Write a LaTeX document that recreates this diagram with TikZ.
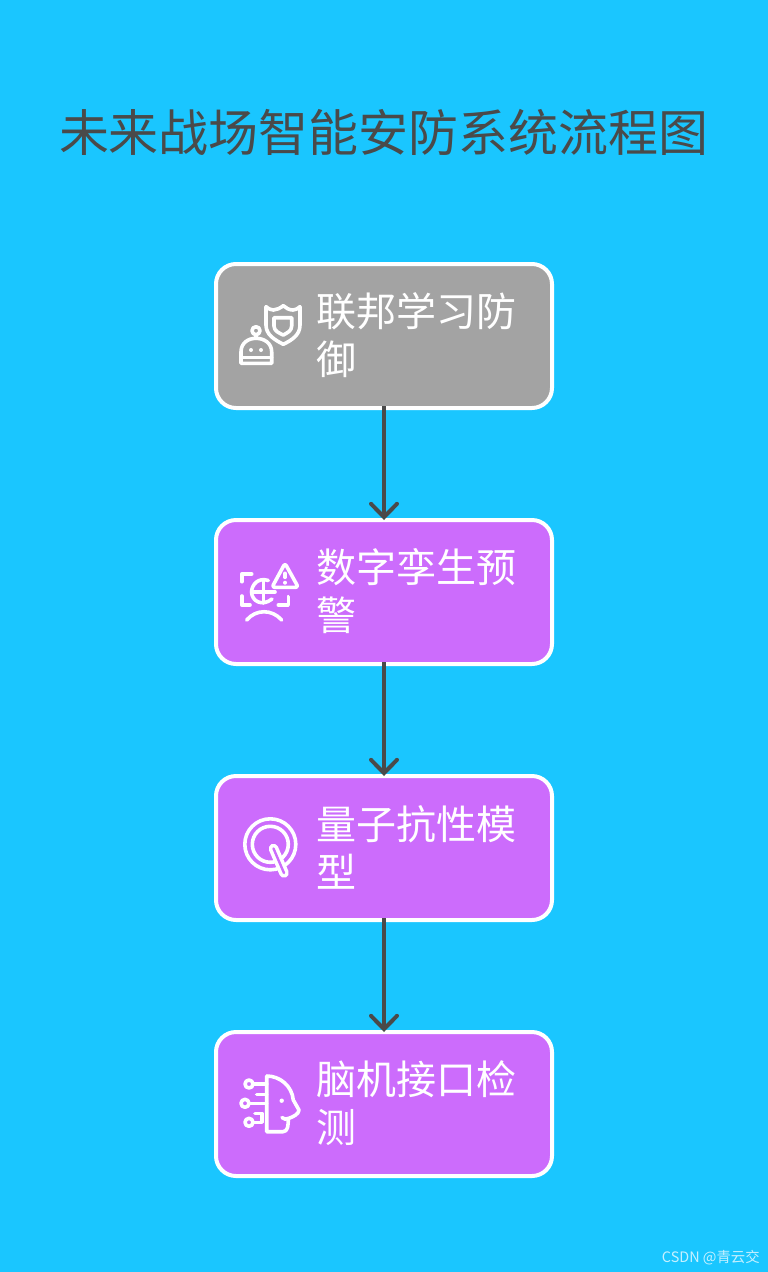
\documentclass[tikz,border=0pt]{standalone}
\usepackage{fontspec}
\setmainfont{Noto Sans CJK SC}
\usetikzlibrary{arrows.meta}
\definecolor{skybg}{HTML}{1AC6FF}
\definecolor{greybox}{HTML}{A3A3A3}
\definecolor{violetbox}{HTML}{CC6CFC}
\definecolor{inkgrey}{HTML}{4A4A4A}
\tikzset{
  flowbox/.style={draw=white,line width=3pt,rounded corners=15pt,minimum width=252pt,minimum height=108pt,inner sep=0pt,outer sep=0pt},
  flowtext/.style={anchor=west,align=left,inner sep=0pt,text=white,font=\fontsize{30}{36}\selectfont},
  flowarrow/.style={draw=inkgrey,line width=3pt,shorten <=-1.5pt,-{Straight Barb[length=10pt,width=19.5pt,line cap=round]}},
  iconline/.style={draw=white,line width=2.7pt,line cap=round,line join=round}
}
\begin{document}
\begin{tikzpicture}[x=0.75pt,y=-0.75pt]
  \useasboundingbox (0,0) rectangle (768,1272);
  \fill[skybg] (0,0) rectangle (768,1272);
  % 标题
  \node[text=inkgrey,inner sep=0pt,font=\fontsize{37.5}{45}\selectfont] (title) at (384,132) {未来战场智能安防系统流程图};
  % 四个方框
  \node[flowbox,fill=greybox] (fed) at (384,336) {};
  \node[flowbox,fill=violetbox] (twin) at (384,592) {};
  \node[flowbox,fill=violetbox] (quantum) at (384,848) {};
  \node[flowbox,fill=violetbox] (brain) at (384,1104) {};
  % 方框文字
  \node[flowtext] (fedtext) at (316,335) {联邦学习防\\御};
  \node[flowtext] (twintext) at (316,591) {数字孪生预\\警};
  \node[flowtext] (quantumtext) at (316,847) {量子抗性模\\型};
  \node[flowtext] (braintext) at (316,1103) {脑机接口检\\测};
  % 箭头
  \draw[flowarrow] (fed) -- (twin);
  \draw[flowarrow] (twin) -- (quantum);
  \draw[flowarrow] (quantum) -- (brain);
  % 机器人和盾牌
  \draw[iconline] (256,330.7) circle (4);
  \draw[iconline] (256,334.7) -- (256,338.3);
  \draw[iconline] (241,363.3) -- (241,352) .. controls (241,343) and (248,338.3) .. (256,338.3)
    .. controls (264,338.3) and (271.7,343) .. (271.7,352) -- (271.7,363.3) -- cycle;
  \draw[iconline] (241,357.3) -- (271.7,357.3);
  \foreach \x in {251,261}
    \fill[white] (\x,350) circle (2);
  \draw[iconline] (266,306.7) -- (266,325) .. controls (266,335) and (275,340) .. (283.3,344.3)
    .. controls (292,340) and (300,335) .. (300,325) -- (300,306.7)
    .. controls (297,309) and (295,310) .. (293,310) .. controls (289,310) and (286,308) .. (283.3,305.7)
    .. controls (280,308) and (277,310) .. (273.3,310) .. controls (271,310) and (269,309) .. (266,306.7) -- cycle;
  \draw[iconline] (274,317.7) -- (291.7,317.7) -- (291.7,326) .. controls (291.7,331) and (287,333) .. (283.3,335)
    .. controls (279,333) and (274,331) .. (274,326) -- cycle;
  % 地球和警告
  \draw[iconline,rounded corners=2pt] (285,563.3) -- (298.3,587.3) -- (272,587.3) -- cycle;
  \draw[iconline] (285,573.3) -- (285,577.3);
  \fill[white] (285,582.7) circle (2);
  \draw[iconline] (241.7,581.7) -- (241.7,574) -- (251.7,574);
  \draw[iconline] (241.7,596) -- (241.7,605) -- (250,605);
  \draw[iconline] (288.3,596.7) -- (288.3,605) -- (278.3,605);
  \draw[iconline] (268.3,580.5) .. controls (258,577) and (251.6,585) .. (251.6,592)
    .. controls (251.6,601) and (262,607) .. (272,599);
  \draw[iconline] (263.3,580) -- (263.3,603);
  \draw[iconline] (251.6,592) -- (275,592);
  \draw[iconline] (246.7,620) .. controls (256,609) and (272,609) .. (281.7,620);
  % 字母Q
  \draw[iconline] (270.3,844.3) circle (25.5);
  \draw[iconline] (270.3,844.3) circle (18);
  \draw[white,line width=7.2pt,line cap=round] (273.5,848.5) -- (284,873);
  \draw[violetbox,line width=1.8pt,line cap=round] (273.5,848.5) -- (284,873);
  % 头像和电路
  \draw[iconline] (266.7,1076) -- (266.7,1131.7) -- (283,1131.7) .. controls (288,1131.7) and (288.3,1125) .. (288.3,1118.5)
    .. controls (293,1117) and (299,1114) .. (299,1110) -- (293.3,1100) .. controls (292,1086) and (280,1076) .. (266.7,1076);
  \fill[white] (281.7,1100.7) circle (2.2);
  \draw[iconline] (282,1117.5) .. controls (284,1119.5) and (286,1119.5) .. (288.3,1118.5);
  \foreach \x/\y in {249/1084,245/1103.3,249/1122.3}
    \draw[iconline] (\x,\y) circle (4);
  \draw[iconline] (253,1084) -- (266.7,1084);
  \draw[iconline] (249,1103.3) -- (266.7,1103.3);
  \draw[iconline] (256.7,1094.3) -- (266.7,1094.3);
  \draw[iconline] (253,1122.3) -- (261.7,1122.3) -- (261.7,1113.3) -- (255,1113.3);
  % 水印
  \node[text=white,text opacity=0.75,inner sep=0pt,anchor=east,font=\fontsize{10.8}{12}\selectfont] (mark) at (760,1258) {CSDN @青云交};
\end{tikzpicture}
\end{document}
